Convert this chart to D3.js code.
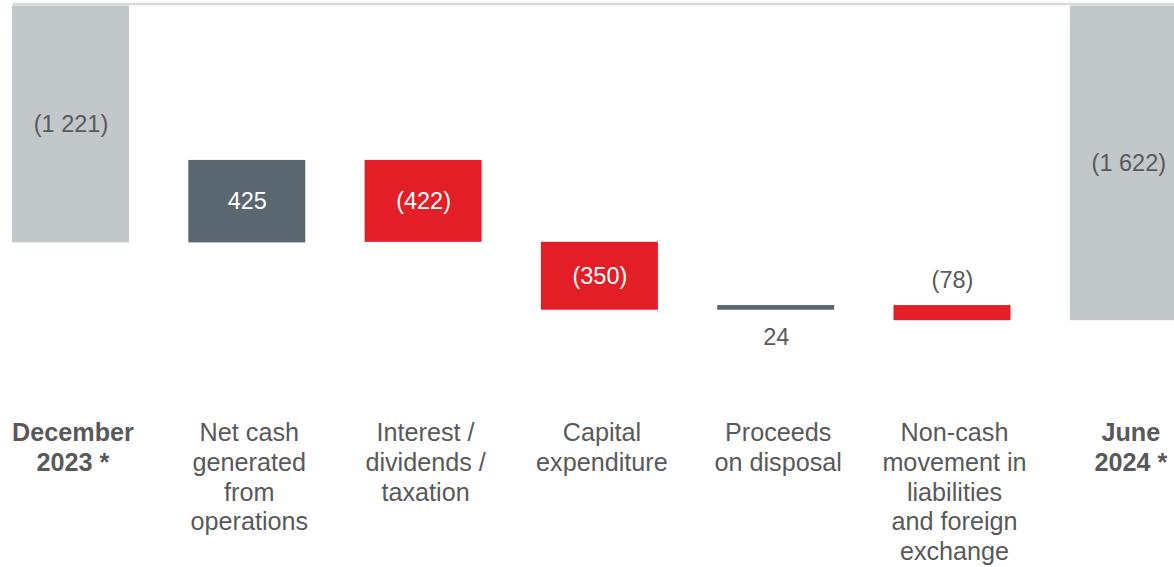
<!DOCTYPE html>
<html>
<head>
<meta charset="utf-8">
<script src="https://cdn.jsdelivr.net/npm/d3@7"></script>
<style>
  html, body { margin: 0; padding: 0; background: #fff; }
  svg { display: block; font-family: "Liberation Sans", Arial, sans-serif; }
</style>
</head>
<body>
<svg id="chart" width="1174" height="567"></svg>
<script>
// ---- Data ----
const categories = [
  ["December", "2023 *"],
  ["Net cash", "generated", "from", "operations"],
  ["Interest /", "dividends /", "taxation"],
  ["Capital", "expenditure"],
  ["Proceeds", "on disposal"],
  ["Non-cash", "movement in", "liabilities", "and foreign", "exchange"],
  ["June", "2024 *"]
];
const values = [-1221, 425, -422, -350, 24, -78, -1622];
const kinds = ["total", "delta", "delta", "delta", "delta", "delta", "total"];
const valueLabels = ["(1 221)", "425", "(422)", "(350)", "24", "(78)", "(1 622)"];

// ---- Build waterfall ----
let running = 0;
const bars = values.map((v, i) => {
  let y0, y1;
  if (kinds[i] === "total") { y0 = 0; y1 = v; running = v; }
  else { y0 = running; y1 = running + v; running = y1; }
  return { i, v, y0, y1, kind: kinds[i], label: valueLabels[i], cat: categories[i] };
});

const svg = d3.select("#chart");
const W = 1174;

const x = d3.scaleBand()
  .domain(d3.range(categories.length))
  .range([-17.65, 1216.45])
  .paddingInner(0.3364)
  .paddingOuter(0.1682);

const y = d3.scaleLinear().domain([0, -1622]).range([5.5, 320.2]);

const colorFor = d => d.kind === "total" ? "#C2C7CA" : (d.v >= 0 ? "#5B6770" : "#E31E26");

// zero line
svg.append("line")
  .attr("x1", 13).attr("x2", W)
  .attr("y1", y(0) - 1.5).attr("y2", y(0) - 1.5)
  .attr("stroke", "#D9D9D9").attr("stroke-width", 2.5);

svg.selectAll("rect.bar").data(bars).join("rect")
  .attr("class", "bar")
  .attr("x", d => x(d.i))
  .attr("width", x.bandwidth())
  .attr("y", d => Math.min(y(d.y0), y(d.y1)))
  .attr("height", d => Math.max(3.5, Math.abs(y(d.y1) - y(d.y0))))
  .attr("fill", colorFor);

// value labels
svg.selectAll("text.val").data(bars).join("text")
  .attr("class", "val")
  .attr("x", d => x(d.i) + x.bandwidth() / 2 + 0.5)
  .attr("y", d => {
    const top = Math.min(y(d.y0), y(d.y1)), bot = Math.max(y(d.y0), y(d.y1));
    if (bot - top < 30) {
      return d.v >= 0 ? bot + 27 : top - 25;
    }
    return (top + bot) / 2;
  })
  .attr("dy", "0.35em")
  .attr("text-anchor", "middle")
  .attr("font-size", 23.5)
  .attr("fill", d => {
    const h = Math.abs(y(d.y1) - y(d.y0));
    if (h < 30 || d.kind === "total") return "#595959";
    return "#FFFFFF";
  })
  .text(d => d.label);

// category labels
const catG = svg.selectAll("text.cat").data(bars).join("text")
  .attr("class", "cat")
  .attr("text-anchor", "middle")
  .attr("font-size", 25.2)
  .attr("font-weight", d => d.kind === "total" ? "bold" : "normal")
  .attr("fill", "#595959");
catG.selectAll("tspan").data(d => d.cat.map(t => ({ t, i: d.i })))
  .join("tspan")
  .attr("x", d => x(d.i) + x.bandwidth() / 2 + 2.5)
  .attr("y", (d, j) => 441 + j * 29.8)
  .text(d => d.t);
</script>
</body>
</html>
